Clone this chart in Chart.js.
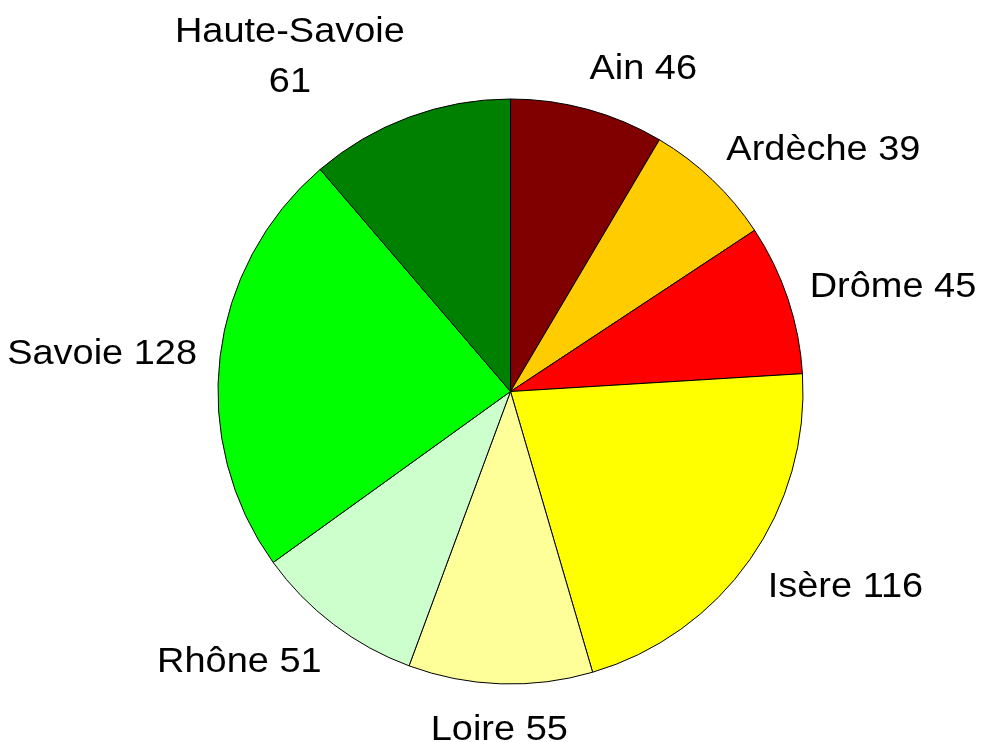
<!DOCTYPE html>
<html>
<head>
<meta charset="utf-8">
<script src="https://cdn.jsdelivr.net/npm/chart.js@4/dist/chart.umd.min.js"></script>
<style>
  html, body { margin: 0; padding: 0; background: #ffffff; }
  #wrap { width: 981px; height: 742px; }
</style>
</head>
<body>
<div id="wrap"><canvas id="c" width="981" height="742"></canvas></div>
<script>
// ---- data ----
const categories = ['Ain', 'Ardèche', 'Drôme', 'Isère', 'Loire', 'Rhône', 'Savoie', 'Haute-Savoie'];
const values = [46, 39, 45, 116, 55, 51, 128, 61];
const sliceColors = ['#800000', '#FFCC00', '#FF0000', '#FFFF00', '#FFFF99', '#CCFFCC', '#00FF00', '#008000'];

// ---- label style ----
const FONT_SIZE = 34.5;
const X_STRETCH = 1.1;
const FONT = FONT_SIZE + 'px "Liberation Sans", Arial, Helvetica, sans-serif';
const LINE_GAP = 50;
const MAX_LINE_W = 220;

const outsideLabels = {
  id: 'outsideLabels',
  afterDraw(chart) {
    const ctx = chart.ctx;
    const meta = chart.getDatasetMeta(0);
    ctx.save();
    ctx.font = FONT;
    ctx.fillStyle = '#000000';
    ctx.textBaseline = 'alphabetic';
    const capH = FONT_SIZE * 0.716;
    meta.data.forEach((arc, i) => {
      const p = arc.getProps(['x', 'y', 'startAngle', 'endAngle', 'outerRadius'], true);
      const mid = (p.startAngle + p.endAngle) / 2;
      const r = p.outerRadius * 1.1;
      const ax = p.x + r * Math.cos(mid);
      const ay = p.y + r * Math.sin(mid);
      const sx = Math.cos(mid);      // >0 : right side
      const cy = -Math.sin(mid);     // >0 : upper half
      const full = categories[i] + ' ' + values[i];
      let lines = [full];
      if (ctx.measureText(full).width * X_STRETCH > MAX_LINE_W) {
        lines = [categories[i], String(values[i])];
      }
      const widths = lines.map(l => ctx.measureText(l).width * X_STRETCH);
      const blockW = Math.max(...widths);
      const blockH = capH + (lines.length - 1) * LINE_GAP;
      const hEff = lines.length === 1 ? 30 : blockH;
      // block center
      let cx;
      if (sx > 0.1) cx = ax - 6 + blockW / 2;
      else if (sx < -0.1) cx = ax + 6 - blockW / 2;
      else cx = ax;
      const ccy = ay - (hEff / 2) * cy;
      const top = ccy - blockH / 2;
      lines.forEach((l, k) => {
        const base = top + capH + k * LINE_GAP;
        ctx.save();
        ctx.translate(cx, base);
        ctx.scale(X_STRETCH, 1);
        ctx.textAlign = 'center';
        ctx.fillText(l, 0, 0);
        ctx.restore();
      });
    });
    ctx.restore();
  }
};

new Chart(document.getElementById('c'), {
  type: 'pie',
  data: {
    labels: categories,
    datasets: [{
      data: values,
      backgroundColor: sliceColors,
      borderColor: '#000000',
      borderWidth: 1,
      hoverOffset: 0
    }]
  },
  options: {
    responsive: false,
    animation: false,
    events: [],
    radius: 292.5,
    layout: { padding: { left: 60, right: 20, top: 51, bottom: 10 } },
    plugins: {
      legend: { display: false },
      tooltip: { enabled: false },
      title: { display: false }
    }
  },
  plugins: [outsideLabels]
});
</script>
</body>
</html>
